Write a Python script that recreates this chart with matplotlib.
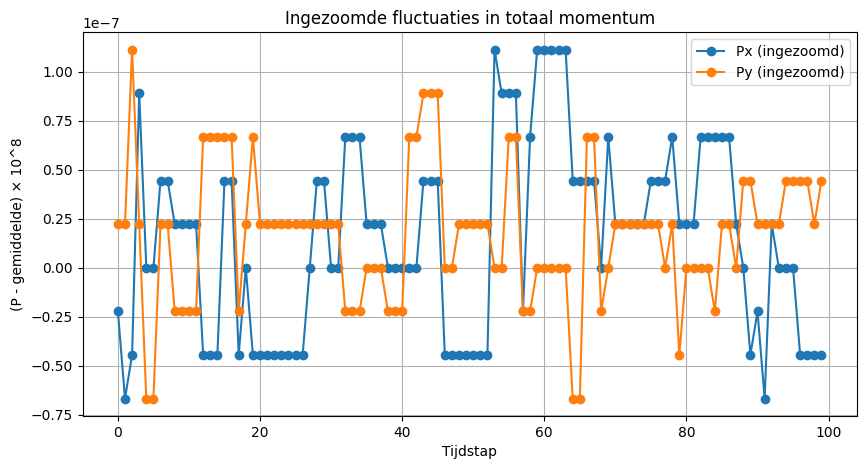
import numpy as np
import matplotlib
matplotlib.use("Agg")
import matplotlib.pyplot as plt

# values in units of 1e-8 (quantised at multiples of 2.222e-8)
steps = list(range(100))
px_e8 = [-2.222, -6.667, -4.444, 8.889, 0, 0, 4.444, 4.444, 2.222, 2.222,
         2.222, 2.222, -4.444, -4.444, -4.444, 4.444, 4.444, -4.444, 0, -4.444,
         -4.444, -4.444, -4.444, -4.444, -4.444, -4.444, -4.444, 0, 4.444, 4.444,
         0, 0, 6.667, 6.667, 6.667, 2.222, 2.222, 2.222, 0, 0,
         0, 0, 0, 4.444, 4.444, 4.444, -4.444, -4.444, -4.444, -4.444,
         -4.444, -4.444, -4.444, 11.111, 8.889, 8.889, 8.889, -2.222, 6.667, 11.111,
         11.111, 11.111, 11.111, 11.111, 4.444, 4.444, 4.444, 4.444, 0, 6.667,
         2.222, 2.222, 2.222, 2.222, 2.222, 4.444, 4.444, 4.444, 6.667, 2.222,
         2.222, 2.222, 6.667, 6.667, 6.667, 6.667, 6.667, 2.222, 0, -4.444,
         -2.222, -6.667, 2.222, 0, 0, 0, -4.444, -4.444, -4.444, -4.444]
py_e8 = [2.222, 2.222, 11.111, 2.222, -6.667, -6.667, 2.222, 2.222, -2.222, -2.222,
         -2.222, -2.222, 6.667, 6.667, 6.667, 6.667, 6.667, -2.222, 2.222, 6.667,
         2.222, 2.222, 2.222, 2.222, 2.222, 2.222, 2.222, 2.222, 2.222, 2.222,
         2.222, 2.222, -2.222, -2.222, -2.222, 0, 0, 0, -2.222, -2.222,
         -2.222, 6.667, 6.667, 8.889, 8.889, 8.889, 0, 0, 2.222, 2.222,
         2.222, 2.222, 2.222, 0, 0, 6.667, 6.667, -2.222, -2.222, 0,
         0, 0, 0, 0, -6.667, -6.667, 6.667, 6.667, -2.222, 0,
         2.222, 2.222, 2.222, 2.222, 2.222, 2.222, 2.222, 0, 2.222, -4.444,
         0, 0, 0, 0, -2.222, 2.222, 2.222, 0, 4.444, 4.444,
         2.222, 2.222, 2.222, 2.222, 4.444, 4.444, 4.444, 4.444, 2.222, 4.444]

px = np.array(px_e8) * 1e-8
py = np.array(py_e8) * 1e-8

fig = plt.figure(figsize=(8.66, 4.70), dpi=100)
ax = fig.add_axes([0.0955, 0.1149, 0.8937, 0.8164])
ax.plot(steps, px, marker='o', label='Px (ingezoomd)')
ax.plot(steps, py, marker='o', label='Py (ingezoomd)')
ax.set_title('Ingezoomde fluctuaties in totaal momentum')
ax.set_xlabel('Tijdstap')
ax.set_ylabel('(P - gemiddelde) × 10^8')
ax.grid(True)
ax.legend(loc='upper right')
fig.savefig('out.png', dpi=100)
